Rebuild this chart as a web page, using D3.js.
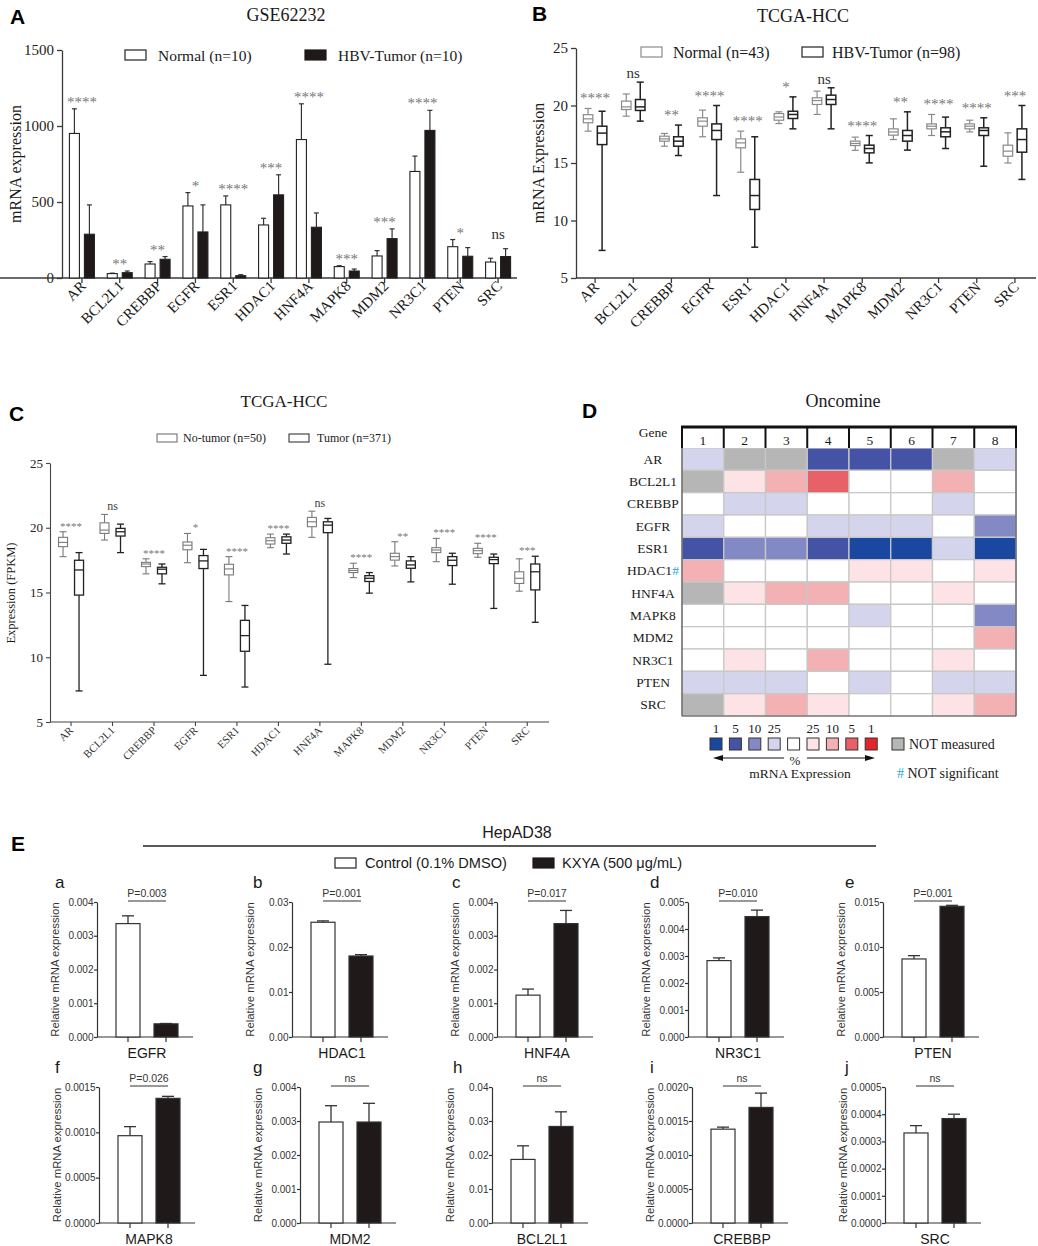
<!DOCTYPE html>
<html><head><meta charset="utf-8">
<script src="https://cdn.jsdelivr.net/npm/d3@7/dist/d3.min.js"></script>
<style>html,body{margin:0;padding:0;background:#fff}svg{display:block}</style>
</head><body>
<svg id="fig" width="1038" height="1246" xmlns="http://www.w3.org/2000/svg"></svg>
<script>
// ================= DATA =================
const genes = ["AR","BCL2L1","CREBBP","EGFR","ESR1","HDAC1","HNF4A","MAPK8","MDM2","NR3C1","PTEN","SRC"];

// Panel A: GSE62232 (mean, error)
const aSeries = ["Normal (n=10)", "HBV-Tumor (n=10)"];
const aNormal    = [951, 29, 92, 474, 481, 349, 911, 75, 145, 701, 206, 105];
const aNormalErr = [162, 3, 16, 88, 59, 44, 235, 6, 35, 101, 47, 25];
const aTumor     = [288, 35, 123, 303, 15, 547, 334, 46, 259, 971, 143, 141];
const aTumorErr  = [193, 11, 18, 178, 7, 132, 94, 13, 64, 132, 57, 52];
const aSig = ["****","**","**","*","****","***","****","***","***","****","*","ns"];
const aTicks = [0, 500, 1000, 1500];

// Panel B: TCGA-HCC boxes [min, q1, median, q3, max]
const bSeries = ["Normal (n=43)", "HBV-Tumor (n=98)"];
const bNormal = [
  [17.77,18.5,18.84,19.2,19.74],[19.07,19.65,19.88,20.38,21.0],[16.46,16.9,17.1,17.33,17.57],
  [17.28,18.2,18.64,18.93,19.6],[14.2,16.32,16.75,17.1,17.77],[18.43,18.72,19.0,19.3,19.45],
  [19.22,20.09,20.43,20.67,21.25],[16.1,16.52,16.7,16.9,17.25],[17.04,17.42,17.7,17.97,18.84],
  [17.39,17.97,18.2,18.4,19.22],[17.7,17.97,18.2,18.4,18.72],[15.0,15.59,16.03,16.55,17.62]
];
const bTumor = [
  [7.4,16.6,17.6,18.2,19.5],[18.64,19.57,19.88,20.52,22.03],[15.65,16.46,16.9,17.28,18.3],
  [12.17,17.04,17.83,18.4,20.0],[7.68,10.96,12.17,13.57,17.28],[17.97,18.87,19.22,19.5,20.75],
  [17.97,20.09,20.52,20.9,21.54],[15.01,15.88,16.26,16.55,17.39],[16.12,16.9,17.39,17.83,19.45],
  [16.26,17.28,17.71,18.06,18.99],[14.72,17.39,17.83,18.06,18.93],[13.57,15.94,17.04,17.97,20.0]
];
const bSig = ["****","ns","**","****","****","*","ns","****","**","****","****","***"];
const bTicks = [5, 10, 15, 20, 25];

// Panel C: TCGA-HCC FPKM boxes [min, q1, median, q3, max]
const cSeries = ["No-tumor (n=50)", "Tumor (n=371)"];
const cNormal = [
  [17.77,18.54,18.87,19.26,19.69],[19.05,19.56,19.82,20.38,21.03],[16.44,17.0,17.2,17.33,17.6],
  [17.3,18.3,18.65,18.9,19.56],[14.3,16.36,16.82,17.18,17.77],[18.46,18.74,19.0,19.23,19.51],
  [19.26,20.08,20.46,20.8,21.28],[16.15,16.54,16.7,16.85,17.26],[17.05,17.5,17.77,18.03,18.92],
  [17.38,18.08,18.28,18.46,19.18],[17.72,18.0,18.23,18.41,18.8],[15.1,15.7,16.1,16.6,17.6]
];
const cTumor = [
  [7.4,14.8,16.74,17.49,18.08],[18.08,19.36,19.69,19.95,20.28],[15.67,16.44,16.8,16.95,17.2],
  [8.6,16.85,17.44,17.85,18.33],[7.7,10.46,11.67,12.85,14.0],[17.97,18.8,19.05,19.3,19.51],
  [9.46,19.62,20.2,20.46,20.72],[14.95,15.85,16.1,16.3,16.54],[15.82,16.87,17.13,17.44,17.77],
  [15.64,17.08,17.49,17.77,18.03],[13.77,17.23,17.54,17.72,17.97],[12.7,15.2,16.6,17.2,17.8]
];
const cSig = ["****","ns","****","*","****","****","ns","****","**","****","****","***"];
const cTicks = [5, 10, 15, 20, 25];

// Panel D: Oncomine heat map (percentile category per study)
const dStudies = ["1","2","3","4","5","6","7","8"];
const dGenes = ["AR","BCL2L1","CREBBP","EGFR","ESR1","HDAC1","HNF4A","MAPK8","MDM2","NR3C1","PTEN","SRC"];
const dNotSignificant = ["HDAC1"];
const dCells = [
  ["b25","na","na","b5","b5","b5","na","b25"],
  ["na","r25","r10","r5","w","w","r10","w"],
  ["w","b25","b25","w","w","w","b25","w"],
  ["b25","w","w","b25","b25","b25","w","b10"],
  ["b5","b10","b10","b5","b1","b1","b25","b1"],
  ["r10","w","w","w","r25","r25","w","r25"],
  ["na","r25","r10","r10","w","w","r25","w"],
  ["w","w","w","w","b25","w","w","b10"],
  ["w","w","w","w","w","w","w","r10"],
  ["w","r25","w","r10","w","w","r25","w"],
  ["b25","b25","b25","w","b25","w","b25","b25"],
  ["na","r25","r10","r25","w","w","r25","r10"]
];
const dLegendLevels = ["b1","b5","b10","b25","w","r25","r10","r5","r1"];
const dLegendLabels = ["1","5","10","25","","25","10","5","1"];

// Panel E: HepAD38 qPCR
const eSeries = ["Control (0.1% DMSO)", "KXYA (500 \u03bcg/mL)"];
const eLetters = ["a","b","c","d","e","f","g","h","i","j"];
const eGenes = ["EGFR","HDAC1","HNF4A","NR3C1","PTEN","MAPK8","MDM2","BCL2L1","CREBBP","SRC"];
const eControl    = [0.00336,0.0255,0.00124,0.00283,0.00867,0.000963,0.00297,0.0187,0.00138,0.000331];
const eControlErr = [0.00023,0.0003,0.00018,0.0001,0.00037,0.0001,0.00048,0.004,0.00003,0.000027];
const eKxya       = [0.00039,0.018,0.00336,0.00446,0.01452,0.001375,0.00297,0.0284,0.0017,0.000384];
const eKxyaErr    = [0.00001,0.0003,0.00039,0.00024,0.00011,0.000022,0.00055,0.0043,0.00021,0.000016];
const eMax      = [0.004,0.03,0.004,0.005,0.015,0.0015,0.004,0.04,0.002,0.0005];
const eTickStep = [0.001,0.01,0.001,0.001,0.005,0.0005,0.001,0.01,0.0005,0.0001];
const eDecimals = [3,2,3,3,3,4,3,2,4,4];
const eP = ["P=0.003","P=0.001","P=0.017","P=0.010","P=0.001","P=0.026","ns","ns","ns","ns"];

// ================= DRAWING =================
const svg = d3.select("#fig");
const SERIF = "'Liberation Serif','Times New Roman',Times,serif";
const SANS = "'Liberation Sans',Arial,Helvetica,sans-serif";
const BLACK = "#1f1a19";

function txt(x, y, s, o = {}) {
  const t = svg.append("text").attr("x", x).attr("y", y).text(s)
    .attr("font-family", o.ff || SERIF).attr("font-size", o.fs || 14)
    .attr("fill", o.fill || "#1a1a1a").attr("text-anchor", o.anchor || "start");
  if (o.fw) t.attr("font-weight", o.fw);
  if (o.rot !== undefined) t.attr("transform", `rotate(${o.rot},${x},${y})`);
  if (o.db) t.attr("dominant-baseline", o.db);
  return t;
}
function styleAxis(sel, ff, fs, color = "#3a3a3a", sw = 1.3) {
  sel.attr("font-family", ff).attr("font-size", fs);
  sel.select(".domain").attr("stroke", color).attr("stroke-width", sw);
  sel.selectAll(".tick line").attr("stroke", color).attr("stroke-width", sw);
  sel.selectAll(".tick text").attr("fill", "#222");
}
function line(x1, y1, x2, y2, stroke = "#222", sw = 1.2) {
  return svg.append("line").attr("x1", x1).attr("y1", y1).attr("x2", x2).attr("y2", y2)
    .attr("stroke", stroke).attr("stroke-width", sw);
}
function rect(x, y, w, h, fill, stroke, sw = 1.2) {
  return svg.append("rect").attr("x", x).attr("y", y).attr("width", w).attr("height", h)
    .attr("fill", fill).attr("stroke", stroke || "none").attr("stroke-width", sw);
}

// Panel letters
txt(10, 24, "A", {ff: SANS, fs: 21, fw: "bold", fill: "#000"});
txt(532, 21, "B", {ff: SANS, fs: 21, fw: "bold", fill: "#000"});
txt(9, 421, "C", {ff: SANS, fs: 21, fw: "bold", fill: "#000"});
txt(582, 418, "D", {ff: SANS, fs: 21, fw: "bold", fill: "#000"});
txt(11, 851, "E", {ff: SANS, fs: 21, fw: "bold", fill: "#000"});

// ---------- Panel A ----------
(function () {
  const x = d3.scaleBand().domain(genes).range([63, 517]);
  const y = d3.scaleLinear().domain([0, 1500]).range([278, 50]);
  const off = 7.5, bw = 10;
  txt(286, 21, "GSE62232", {fs: 18, anchor: "middle"});
  rect(125, 50, 21, 10, "#fff", "#222");
  txt(158, 61, aSeries[0], {fs: 15.5});
  rect(305, 50, 21, 10, BLACK, BLACK);
  txt(338, 61, aSeries[1], {fs: 15.5});
  const gy = svg.append("g").attr("transform", "translate(62,0)")
    .call(d3.axisLeft(y).tickValues(aTicks).tickFormat(d3.format("d")).tickSize(5).tickSizeOuter(0).tickPadding(3));
  styleAxis(gy, SERIF, 15);
  const gx = svg.append("g").attr("transform", "translate(0,278)")
    .call(d3.axisBottom(x).tickSize(5).tickSizeOuter(0).tickFormat(""));
  styleAxis(gx, SERIF, 15);
  gx.select(".domain").attr("d", "M-1,0H517");
  txt(15, 164, "mRNA expression", {fs: 16, anchor: "middle", rot: -90, db: "central"});
  genes.forEach((gname, i) => {
    const cx = x(gname) + x.bandwidth() / 2;
    [[aNormal, aNormalErr, "#fff", -off], [aTumor, aTumorErr, BLACK, off]].forEach(([v, e, fill, o]) => {
      const bx = cx + o;
      line(bx, y(v[i]), bx, y(v[i] + e[i]), "#333", 1.2);
      line(bx - 2.5, y(v[i] + e[i]), bx + 2.5, y(v[i] + e[i]), "#333", 1.2);
      rect(bx - bw / 2, y(v[i]), bw, y(0) - y(v[i]), fill, "#222", 1.1);
    });
    const top = y(Math.max(aNormal[i] + aNormalErr[i], aTumor[i] + aTumorErr[i]));
    if (aSig[i] === "ns") txt(cx, top - 10, "ns", {fs: 15, anchor: "middle", fill: "#333"});
    else txt(cx, top - 2, aSig[i], {fs: 15, anchor: "middle", fill: "#777"});
    txt(cx + 5, 287, gname, {fs: 15, anchor: "end", rot: -45});
  });
})();

// ---------- box helper ----------
function drawBox(cx, y, d, w, stroke, sw, capW) {
  line(cx, y(d[0]), cx, y(d[1]), stroke, sw);
  line(cx, y(d[3]), cx, y(d[4]), stroke, sw);
  line(cx - capW / 2, y(d[0]), cx + capW / 2, y(d[0]), stroke, sw);
  line(cx - capW / 2, y(d[4]), cx + capW / 2, y(d[4]), stroke, sw);
  rect(cx - w / 2, y(d[3]), w, y(d[1]) - y(d[3]), "#fff", stroke, sw);
  line(cx - w / 2, y(d[2]), cx + w / 2, y(d[2]), stroke, sw);
}

// ---------- Panel B ----------
(function () {
  const x = d3.scaleBand().domain(genes).range([576, 1034]);
  const y = d3.scaleLinear().domain([5, 25]).range([278, 48]);
  txt(803, 22, "TCGA-HCC", {fs: 18, anchor: "middle"});
  rect(641, 47, 21, 10, "#fff", "#8a8a8a");
  txt(673, 58, bSeries[0], {fs: 16});
  rect(802, 47, 21, 10, "#fff", "#222");
  txt(832, 58, bSeries[1], {fs: 16});
  const gy = svg.append("g").attr("transform", "translate(576,0)")
    .call(d3.axisLeft(y).tickValues(bTicks).tickSize(5).tickSizeOuter(0).tickPadding(3));
  styleAxis(gy, SERIF, 15);
  const gx = svg.append("g").attr("transform", "translate(0,278)")
    .call(d3.axisBottom(x).tickSize(5).tickSizeOuter(0).tickFormat(""));
  styleAxis(gx, SERIF, 15);
  gx.select(".domain").attr("d", "M576,0H1036");
  txt(538, 163, "mRNA Expression", {fs: 16, anchor: "middle", rot: -90, db: "central"});
  genes.forEach((gname, i) => {
    const cx = x(gname) + x.bandwidth() / 2;
    drawBox(cx - 7, y, bNormal[i], 9.5, "#8a8a8a", 1.2, 7);
    drawBox(cx + 7, y, bTumor[i], 9.5, "#222", 1.5, 7);
    const top = y(Math.max(bNormal[i][4], bTumor[i][4]));
    if (bSig[i] === "ns") txt(cx, top - 4, "ns", {fs: 15, anchor: "middle", fill: "#333"});
    else txt(cx, top - 5, bSig[i], {fs: 15, anchor: "middle", fill: "#777"});
    txt(cx + 5, 288, gname, {fs: 15, anchor: "end", rot: -45});
  });
})();

// ---------- Panel C ----------
(function () {
  const x = d3.scaleBand().domain(genes).range([50.3, 548]);
  const y = d3.scaleLinear().domain([5, 25]).range([722, 463]);
  txt(284, 407, "TCGA-HCC", {fs: 17, anchor: "middle"});
  rect(157, 434, 20, 8, "#fff", "#666", 1);
  txt(183, 442, cSeries[0], {fs: 12});
  rect(289, 434, 20, 8, "#fff", "#222", 1);
  txt(317, 442, cSeries[1], {fs: 12});
  const gy = svg.append("g").attr("transform", "translate(50,0)")
    .call(d3.axisLeft(y).tickValues(cTicks).tickSize(4).tickSizeOuter(0).tickPadding(3));
  styleAxis(gy, SERIF, 13, "#444", 1.1);
  const gx = svg.append("g").attr("transform", "translate(0,722)")
    .call(d3.axisBottom(x).tickSize(4).tickSizeOuter(0).tickFormat(""));
  styleAxis(gx, SERIF, 13, "#444", 1.1);
  gx.select(".domain").attr("d", "M50,0H549");
  txt(11, 593, "Expression (FPKM)", {fs: 12.5, anchor: "middle", rot: -90, db: "central"});
  genes.forEach((gname, i) => {
    const cx = x(gname) + x.bandwidth() / 2;
    drawBox(cx - 8, y, cNormal[i], 9, "#7a7a7a", 1.1, 7);
    drawBox(cx + 8, y, cTumor[i], 9, "#222", 1.3, 7);
    const top = y(Math.max(cNormal[i][4], cTumor[i][4]));
    if (cSig[i] === "ns") txt(cx, top - 4, "ns", {fs: 12, anchor: "middle", fill: "#444"});
    else txt(cx, top - 2, cSig[i], {fs: 11, anchor: "middle", fill: "#777"});
    txt(cx + 3, 731, gname, {fs: 11, anchor: "end", rot: -45, fill: "#333"});
  });
})();

// ---------- Panel D ----------
(function () {
  const colors = {
    b1: "#1a47a0", b5: "#4453a5", b10: "#8389c5", b25: "#d4d5ec", w: "#ffffff",
    r25: "#fde3e5", r10: "#f4b1b3", r5: "#e86166", r1: "#e3242a", na: "#b6b6b6"
  };
  const x = d3.scaleBand().domain(dStudies).range([682, 1016]);
  const y = d3.scaleBand().domain(dGenes).range([448, 716]);
  txt(843, 407, "Oncomine", {fs: 18, anchor: "middle"});
  txt(653, 437, "Gene", {fs: 13.5, anchor: "middle"});
  dGenes.forEach((gname, r) => {
    const t = txt(653, y(gname) + y.bandwidth() / 2 + 4.5, gname, {fs: 13.5, anchor: "middle"});
    if (dNotSignificant.includes(gname)) {
      t.append("tspan").attr("fill", "#27a9e1").text("#");
    }
    dStudies.forEach((s, c) => {
      rect(x(s), y(gname), x.bandwidth(), y.bandwidth(), colors[dCells[r][c]], "#c8c8c8", 1.3);
    });
  });
  // header
  dStudies.forEach(s => {
    rect(x(s), 427, x.bandwidth(), 21, "#fff", null);
    txt(x(s) + x.bandwidth() / 2, 445, s, {fs: 13.5, anchor: "middle"});
  });
  line(681, 427, 1017, 427, "#111", 3);
  dStudies.concat(["end"]).forEach((s, k) => {
    const xx = k < dStudies.length ? x(s) : 1016;
    line(xx, 427, xx, 448, "#111", 2);
  });
  line(682, 448, 682, 716, "#555", 1.2);
  line(1016, 448, 1016, 716, "#555", 1.2);
  line(682, 716, 1016, 716, "#555", 1.2);
  // legend
  dLegendLevels.forEach((lv, k) => {
    const lx = 710 + k * 19.4;
    rect(lx, 738, 12, 12, colors[lv], "#333", 1);
    if (dLegendLabels[k]) txt(lx + 6, 733, dLegendLabels[k], {fs: 13, anchor: "middle"});
  });
  rect(892, 738, 12, 12, colors.na, "#333", 1);
  txt(909, 749, "NOT measured", {fs: 14});
  // arrows
  line(718, 758, 784, 758, "#111", 1.2);
  svg.append("path").attr("d", "M713,758 L723,755 L723,761 Z").attr("fill", "#111");
  line(807, 758, 868, 758, "#111", 1.2);
  svg.append("path").attr("d", "M875,758 L865,755 L865,761 Z").attr("fill", "#111");
  txt(795, 765, "%", {fs: 13, anchor: "middle"});
  txt(800, 778, "mRNA Expression", {fs: 13.5, anchor: "middle"});
  const ns = txt(897, 778, "", {fs: 14});
  ns.append("tspan").attr("fill", "#27a9e1").text("#");
  ns.append("tspan").text(" NOT significant");
})();

// ---------- Panel E ----------
(function () {
  txt(517, 838, "HepAD38", {ff: SANS, fs: 16, anchor: "middle"});
  line(143, 846, 876, 846, "#222", 1.3);
  rect(335, 858, 21, 10, "#fff", "#222", 1.2);
  txt(365, 868, eSeries[0], {ff: SANS, fs: 14.6});
  rect(533, 858, 21, 10, BLACK, BLACK, 1.2);
  txt(562, 868, eSeries[1], {ff: SANS, fs: 14.6});

  const rowTop = [902, 1087], rowBot = [1037, 1223];
  const axisX = [97, 292, 497, 688, 883, 99, 300, 492, 692, 885];
  const letterX = [55, 253, 452, 650, 845, 55, 253, 453, 650, 845];
  const letterY = [888, 1073];
  eGenes.forEach((gname, i) => {
    const row = Math.floor(i / 5);
    const ax = axisX[i];
    const y = d3.scaleLinear().domain([0, eMax[i]]).range([rowBot[row], rowTop[row]]);
    const x = d3.scalePoint().domain(eSeries).range([ax + 31, ax + 69]);
    const ticks = d3.range(0, eMax[i] + eTickStep[i] / 2, eTickStep[i]);
    const gy = svg.append("g").attr("transform", `translate(${ax},0)`)
      .call(d3.axisLeft(y).tickValues(ticks).tickFormat(d3.format(`.${eDecimals[i]}f`))
        .tickSize(3).tickSizeOuter(0).tickPadding(0.5));
    styleAxis(gy, SANS, 10, "#333", 1.2);
    gy.selectAll(".tick text").attr("fill", "#333");
    line(ax, rowBot[row], ax + 96, rowBot[row], "#333", 1.2);
    eSeries.forEach(s => line(x(s), rowBot[row], x(s), rowBot[row] + 5, "#333", 1.2));
    const bw = 24;
    [[eControl, eControlErr, "#fff", eSeries[0]], [eKxya, eKxyaErr, BLACK, eSeries[1]]].forEach(([v, e, fill, s]) => {
      const bx = x(s);
      line(bx, y(v[i]), bx, y(v[i] + e[i]), "#333", 1.3);
      line(bx - 6, y(v[i] + e[i]), bx + 6, y(v[i] + e[i]), "#333", 1.3);
      rect(bx - bw / 2, y(v[i]), bw, y(0) - y(v[i]), fill, "#333", 1.2);
    });
    // significance
    line(x(eSeries[0]), rowTop[row] - 1, x(eSeries[1]), rowTop[row] - 1, "#333", 1.1);
    txt((x(eSeries[0]) + x(eSeries[1])) / 2, rowTop[row] - 5, eP[i], {ff: SANS, fs: 10.5, anchor: "middle", fill: "#333"});
    txt(ax + 50, rowBot[row] + 21, gname, {ff: SANS, fs: 14, anchor: "middle"});
    txt(ax - 42, (rowTop[row] + rowBot[row]) / 2, "Relative mRNA expression",
      {ff: SANS, fs: 11.3, anchor: "middle", rot: -90, db: "central", fill: "#333"});
    txt(letterX[i], letterY[row], eLetters[i], {ff: SANS, fs: 17});
  });
})();
</script>
</body></html>
